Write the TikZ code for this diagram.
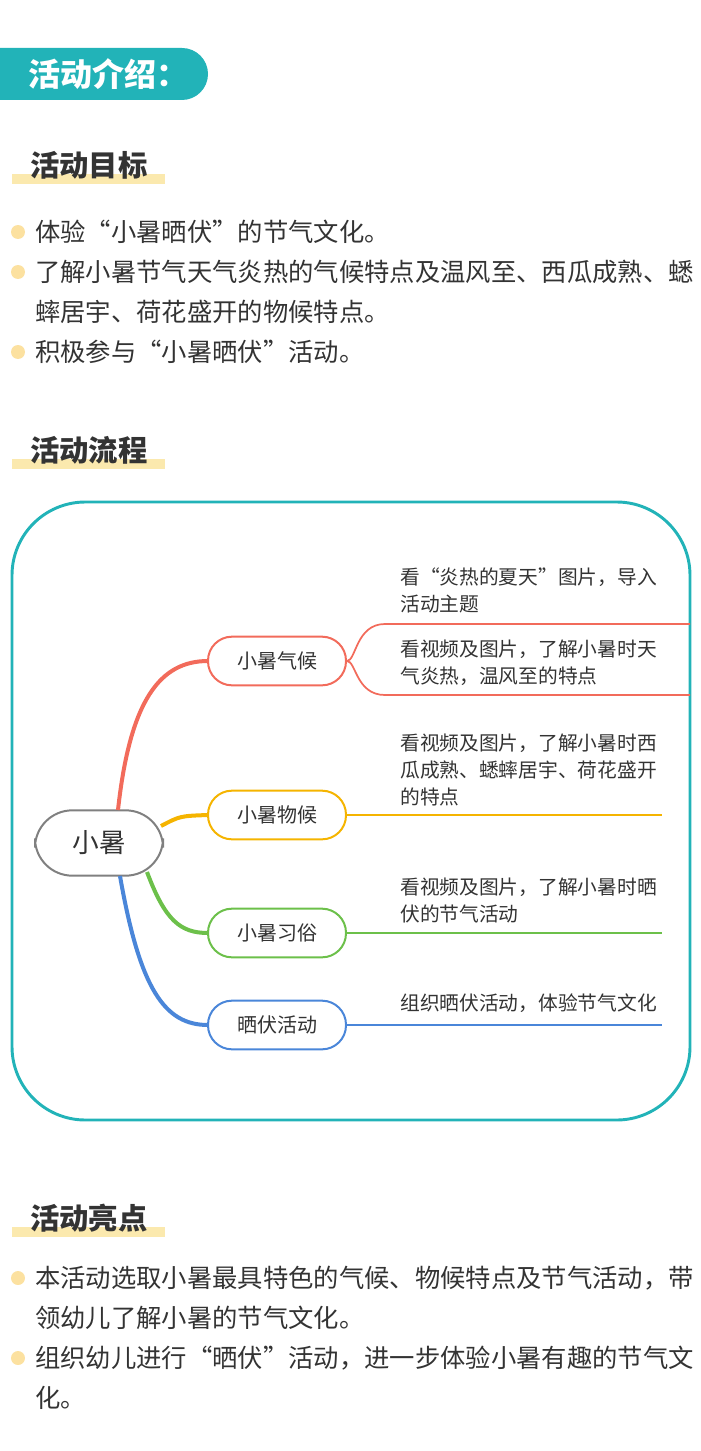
\documentclass[tikz,border=0pt]{standalone}
\usepackage{fontspec}
\setmainfont{Noto Sans CJK SC}
\definecolor{teal}{HTML}{22B3B8}
\definecolor{hlyellow}{HTML}{FBE9AE}
\definecolor{dotyellow}{HTML}{FCE1A0}
\definecolor{txt}{HTML}{333333}
\definecolor{cred}{HTML}{F26B5B}
\definecolor{corange}{HTML}{F5B400}
\definecolor{cgreen}{HTML}{6CC04A}
\definecolor{cblue}{HTML}{4A86D9}
\begin{document}
\begin{tikzpicture}[x=0.75pt, y=-0.75pt,
    heading/.style={anchor=west, font=\fontsize{22}{24}\selectfont\bfseries, text=txt, inner sep=0pt},
    line/.style={anchor=west, font=\fontsize{19}{22}\selectfont, text=txt, inner sep=0pt},
    leaf/.style={anchor=north west, font=\fontsize{14.8}{20}\selectfont, text=txt, align=left, inner sep=0pt},
    branch/.style={draw, line width=1.5pt, rounded corners=18pt, minimum width=103.5pt, minimum height=36.5pt, font=\fontsize{15}{18}\selectfont, text=txt, fill=white}]
    \useasboundingbox (0,0) rectangle (700,1451);

    % header tab
    \begin{scope}
    \clip (0,0) rectangle (700,1451);
    \fill[teal, rounded corners=19.5pt] (-40,48) rectangle (208,100);
    \end{scope}
    \node[anchor=west, font=\fontsize{24}{26}\selectfont\bfseries, text=white, inner sep=0pt] (intro) at (28,74) {活动介绍：};

    % goals
    \fill[hlyellow] (12,174) rectangle (165,184);
    \node[heading] (goals) at (30,165) {活动目标};
    \foreach \y in {232,272,352} \fill[dotyellow] (18,\y) circle (7);
    \node[line] (g1) at (35,232) {体验“小暑晒伏”的节气文化。};
    \node[line] (g2) at (35,272) {了解小暑节气天气炎热的气候特点及温风至、西瓜成熟、蟋};
    \node[line] (g3) at (35,312) {蟀居宇、荷花盛开的物候特点。};
    \node[line] (g4) at (35,352) {积极参与“小暑晒伏”活动。};

    % flow
    \fill[hlyellow] (12,459) rectangle (165,469);
    \node[heading] (flow) at (30,450) {活动流程};
    \draw[teal, line width=2.2pt, rounded corners=55pt] (12,502) rectangle (690,1120);

    \node[draw, gray, line width=1.5pt, rounded corners=28pt, minimum width=96pt, minimum height=49pt, text=txt, font=\fontsize{20}{22}\selectfont] (core) at (99,843) {小暑};

    \draw[cred, line width=3pt] (118,810) .. controls (130,700) and (160,661) .. (208,661);
    \draw[corange, line width=3pt] (161,826) .. controls (180,816) .. (208,815);
    \draw[cgreen, line width=3pt] (147,872) .. controls (165,920) and (180,933) .. (208,933);
    \draw[cblue, line width=3pt] (120,876) .. controls (140,990) and (165,1025) .. (208,1025);

    \node[branch, draw=cred] (climate) at (277,661) {小暑气候};
    \node[branch, draw=corange] (pheno) at (277,815) {小暑物候};
    \node[branch, draw=cgreen] (custom) at (277,933) {小暑习俗};
    \node[branch, draw=cblue] (sunning) at (277,1025) {晒伏活动};

    \coordinate (r1) at (690,624);
    \coordinate (r2) at (690,695);
    \coordinate (o1) at (662,815);
    \coordinate (gr1) at (662,933);
    \coordinate (b1) at (662,1025);
    \draw[cred, line width=1.3pt] (climate.east) .. controls (356,661) and (356,624) .. (385,624) -- (r1);
    \draw[cred, line width=1.3pt] (climate.east) .. controls (356,661) and (356,695) .. (385,695) -- (r2);
    \draw[corange, line width=1.3pt] (pheno.east) -- (o1);
    \draw[cgreen, line width=1.3pt] (custom.east) -- (gr1);
    \draw[cblue, line width=1.3pt] (sunning.east) -- (b1);

    \node[leaf] (l1) at (400,568) {看“炎热的夏天”图片，导入\\活动主题};
    \node[leaf] (l2) at (400,640) {看视频及图片，了解小暑时天\\气炎热，温风至的特点};
    \node[leaf] (l3) at (400,734) {看视频及图片，了解小暑时西\\瓜成熟、蟋蟀居宇、荷花盛开\\的特点};
    \node[leaf] (l4) at (400,878) {看视频及图片，了解小暑时晒\\伏的节气活动};
    \node[leaf] (l5) at (400,994) {组织晒伏活动，体验节气文化};

    % highlights
    \fill[hlyellow] (12,1227) rectangle (165,1237);
    \node[heading] (high) at (30,1218) {活动亮点};
    \foreach \y in {1278,1358} \fill[dotyellow] (18,\y) circle (7);
    \node[line] (h1) at (35,1278) {本活动选取小暑最具特色的气候、物候特点及节气活动，带};
    \node[line] (h2) at (35,1318) {领幼儿了解小暑的节气文化。};
    \node[line] (h3) at (35,1358) {组织幼儿进行“晒伏”活动，进一步体验小暑有趣的节气文};
    \node[line] (h4) at (35,1398) {化。};
\end{tikzpicture}
\end{document}
